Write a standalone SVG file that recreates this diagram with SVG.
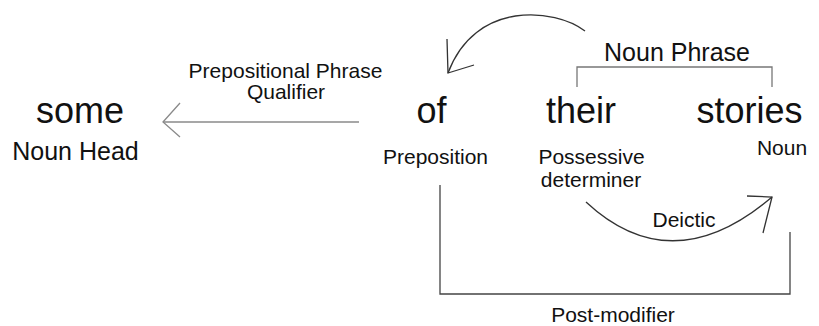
<svg xmlns="http://www.w3.org/2000/svg" width="819" height="326" viewBox="0 0 819 326">
<style>
text{font-family:"Liberation Sans",Arial,sans-serif;fill:#111;text-anchor:middle}
.big{font-size:36px}
.lab{font-size:21px}
.lab25{font-size:25px}
.ln{fill:none;stroke-width:1.3;stroke-linejoin:miter}
</style>
<rect width="819" height="326" fill="#fff"/>
<g id="connectors">
<g id="qualifier-arrow">
<path class="ln" stroke="#8a8a8a" d="M359,122 H163"/>
<path class="ln" stroke="#8a8a8a" d="M180,103 L163,122 L180,137"/>
<text class="lab" x="285.5" y="78">Prepositional Phrase</text>
<text class="lab" x="286" y="99">Qualifier</text>
</g>
<g id="top-arc">
<path class="ln" stroke="#333" d="M585,31 C555,8 475,0 448,73"/>
<path class="ln" stroke="#333" d="M447,39 L448,73 L474,65"/>
</g>
<g id="noun-phrase-bracket">
<path class="ln" stroke="#777" d="M577,87 V67 H772 V87"/>
<text class="lab25" x="677" y="61">Noun Phrase</text>
</g>
<g id="deictic-arc">
<path class="ln" stroke="#333" d="M586,202 Q672,282 772,197"/>
<path class="ln" stroke="#333" d="M747,196 L772,197 L763,233"/>
<text class="lab" x="684" y="227">Deictic</text>
</g>
<g id="post-modifier-bracket">
<path class="ln" stroke="#444" d="M440,185 V294 H790 V232"/>
<text class="lab" x="613" y="322">Post-modifier</text>
</g>
</g>
<g id="node-some">
<text class="big" x="80" y="123">some</text>
<text class="lab25" x="75.5" y="160">Noun Head</text>
</g>
<g id="node-of">
<text class="big" x="431.5" y="123">of</text>
<text class="lab" x="435.5" y="164">Preposition</text>
</g>
<g id="node-their">
<text class="big" x="581" y="123">their</text>
<text class="lab" x="591.5" y="164">Possessive</text>
<text class="lab" x="591" y="187">determiner</text>
</g>
<g id="node-stories">
<text class="big" x="749.5" y="123">stories</text>
<text class="lab" x="782" y="155">Noun</text>
</g>
</svg>
